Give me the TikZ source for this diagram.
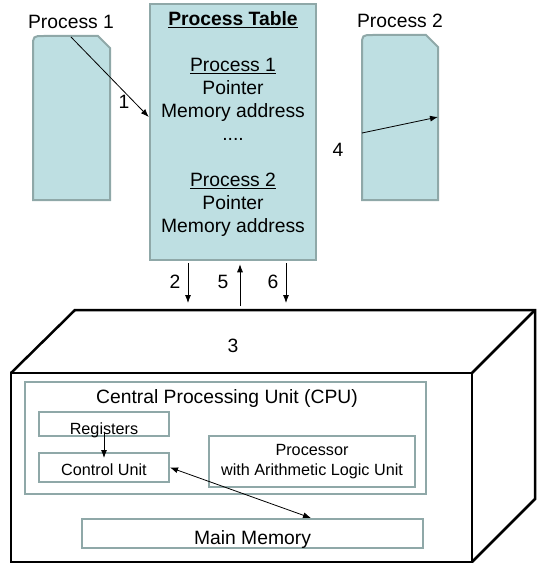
\documentclass[tikz,border=0pt]{standalone}
\usepackage{fontspec}
\setmainfont{Liberation Sans}
\usepackage{xcolor}
\usetikzlibrary{positioning,calc,arrows.meta}

\definecolor{procfill}{HTML}{BEDFE2}
\definecolor{procedge}{HTML}{8FA8A8}

\begin{document}
\begin{tikzpicture}[x=1pt, y=-1pt,
    every node/.style={font=\fontsize{19.3}{23}\selectfont},
    procshape/.style={fill=procfill, draw=procedge, line width=2pt},
    tablebox/.style={fill=procfill, draw=procedge, line width=2.5pt, minimum width=166pt, minimum height=256pt, inner sep=0pt},
    unitbox/.style={draw=procedge, line width=2pt, inner sep=0pt},
    smalltext/.style={font=\fontsize{16.2}{20}\selectfont},
    arr/.style={-{Latex[length=8pt,width=6pt]}, line width=0.8pt},
    dblarr/.style={{Latex[length=8pt,width=6pt]}-{Latex[length=8pt,width=6pt]}, line width=0.8pt},
    case/.style={line width=2.5pt, line join=miter}]
    \useasboundingbox (0,0) rectangle (541,572);

    % the two processes
    \draw[procshape] (33,200) -- (33,47) .. controls (33,36) .. (44,36) -- (98,36) -- (110,48) -- (110,200) -- cycle;
    \draw[procshape] (362,200) -- (362,46) .. controls (362,35) .. (373,35) -- (426,35) -- (438,47) -- (438,200) -- cycle;
    \node (p1) at (71,22) {Process 1};
    \node (p2) at (400,21) {Process 2};

    % process table
    \node[tablebox] (ptable) at (233,132) {};
    \node[anchor=north, align=center, inner sep=0pt] (ptext) at (233,11)
        {\textbf{\underline{Process Table}}\\[23pt] \underline{Process 1}\\ Pointer\\ Memory address\\ ....\\[23pt]
         \underline{Process 2}\\ Pointer\\ Memory address};

    % steps 1 and 4
    \coordinate (p1in) at (71,37);
    \coordinate (p2a) at (362,133);
    \coordinate (p2b) at (438,117);
    \draw[arr] (p1in) -- ([yshift=15pt]ptable.west);
    \draw[arr] (p2a) -- (p2b);
    \node (n1) at (124,102) {1};
    \node (n4) at (338,150) {4};

    % computer case
    \node[draw, case, outer sep=0pt, minimum width=461pt, minimum height=189pt, inner sep=0pt] (front) at (241.5,467.5) {};
    \coordinate (backnw) at (75,310);
    \coordinate (backne) at (535,310);
    \coordinate (backse) at (535,499);
    \draw[case] (front.north west) -- (backnw) -- (backne) -- (backse) -- (front.south east);
    \draw[case] (front.north east) -- (backne);

    % steps 2, 5 and 6
    \coordinate (in2) at (188,303);
    \coordinate (out5) at (240,306);
    \coordinate (in6) at (286,303);
    \draw[arr, shorten <=2pt] (ptable.south -| in2) -- (in2);
    \draw[arr, shorten >=3pt] (out5) -- (ptable.south -| out5);
    \draw[arr, shorten <=2pt] (ptable.south -| in6) -- (in6);
    \node (n2) at (175,282) {2};
    \node (n5) at (223,282) {5};
    \node (n6) at (273,282) {6};
    \node (n3) at (233,346) {3};

    % inside the computer
    \node[unitbox, minimum width=401pt, minimum height=112pt] (cpu) at (225.5,438) {};
    \node (cputitle) at (227,399) {Central Processing Unit (CPU)};
    \node[unitbox, smalltext, minimum width=130pt, minimum height=24pt, text height=20pt, text depth=0pt] (reg) at (104,424) {Registers};
    \node[unitbox, smalltext, minimum width=130pt, minimum height=29pt, text height=15pt, text depth=0pt] (cu) at (104,467.5) {Control Unit};
    \node[unitbox, smalltext, align=center, minimum width=206pt, minimum height=51pt] (proc) at (312,461.5) {Processor\\with Arithmetic Logic Unit};
    \node[unitbox, minimum width=341pt, minimum height=29pt, text height=21pt, text depth=0pt] (mm) at (252.5,533.5) {Main Memory};

    \draw[arr] ([yshift=-8pt]reg.center) -- ([yshift=-6pt]cu.north);
    \draw[dblarr] (cu.east) -- ([xshift=58.5pt]mm.north);
\end{tikzpicture}
\end{document}
